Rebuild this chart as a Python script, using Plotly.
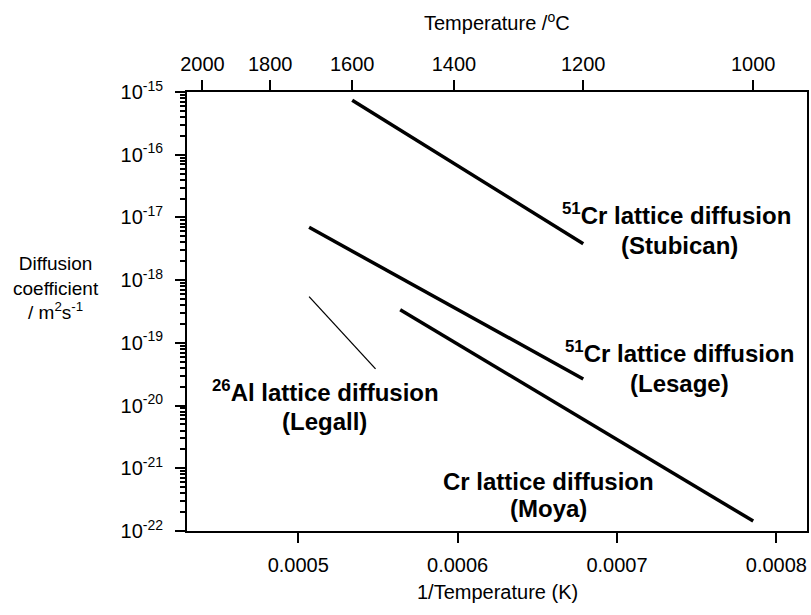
import numpy as np
import plotly.graph_objects as go

# ---------------- data ----------------
# temperatures in degC at line ends, diffusion coefficients in m^2/s
stubican_T = [1600, 1200]
stubican_D = [7.4e-16, 3.8e-18]
lesage_T = [1700, 1200]
lesage_D = [6.95e-18, 2.66e-20]
moya_T = [1500, 1000]
moya_D = [3.37e-19, 1.44e-22]
legall_T = [1700, 1550]
legall_D = [5.46e-19, 3.84e-20]

bottom_ticks = [0.0005, 0.0006, 0.0007, 0.0008]
bottom_ticktext = ["0.0005", "0.0006", "0.0007", "0.0008"]
top_ticks_C = [2000, 1800, 1600, 1400, 1200, 1000]
decades = [-22, -21, -20, -19, -18, -17, -16, -15]

X_RANGE = [0.0004302, 0.0008192]


def inv(Tc):
    return [1.0 / (t + 273.15) for t in Tc]


FONT = "Liberation Sans, Arial, sans-serif"
W, H = 811, 615
L, R, T, B = 187, 809, 92, 531
TICK_SIZE = 20
ANN_SIZE = 24

fig = go.Figure()
for Tc, D, w in [(stubican_T, stubican_D, 3.5), (lesage_T, lesage_D, 3.5),
                 (moya_T, moya_D, 3.5), (legall_T, legall_D, 1.3)]:
    fig.add_trace(go.Scatter(x=inv(Tc), y=D, mode="lines",
                             line=dict(color="black", width=w),
                             showlegend=False, hoverinfo="skip"))
# invisible trace to activate top axis
fig.add_trace(go.Scatter(x=inv(stubican_T), y=stubican_D, mode="lines",
                         line=dict(color="rgba(0,0,0,0)", width=0),
                         xaxis="x2", showlegend=False, hoverinfo="skip"))

minor_vals = [m * 10.0 ** k for k in decades[:-1] for m in range(2, 10)]

fig.update_layout(
    width=W, height=H,
    margin=dict(l=L, r=W - R, t=T, b=H - B, pad=0),
    paper_bgcolor="white", plot_bgcolor="white",
    font=dict(family=FONT, size=TICK_SIZE, color="black"),
    xaxis=dict(range=X_RANGE, tickmode="array", tickvals=bottom_ticks,
               ticktext=bottom_ticktext, ticks="outside", ticklen=10,
               tickwidth=2, tickcolor="black", showline=True, linewidth=2,
               linecolor="black", showgrid=False, zeroline=False,
               ticklabelstandoff=5),
    xaxis2=dict(range=X_RANGE, overlaying="x", side="top", anchor="y",
                tickmode="array", tickvals=inv(top_ticks_C),
                ticktext=[str(t) for t in top_ticks_C], ticks="outside",
                ticklen=10, tickwidth=2, tickcolor="black", showline=True,
                linewidth=2, linecolor="black", showgrid=False,
                zeroline=False, ticklabelstandoff=1),
    yaxis=dict(type="log", range=[-22, -15], tickmode="array",
               tickvals=[10.0 ** k for k in decades],
               ticktext=["10<sup>%d</sup>" % k for k in decades],
               ticks="outside", ticklen=10, tickwidth=2, tickcolor="black",
               showline=True, linewidth=2, linecolor="black", mirror=True,
               showgrid=False, zeroline=False, ticklabelstandoff=8,
               minor=dict(tickmode="array", tickvals=minor_vals,
                          ticks="outside", ticklen=5, tickwidth=1.5,
                          tickcolor="black", showgrid=False)),
)


def px2paper(px, py):
    return (px - L) / (R - L), (B - py) / (B - T)


def label(text, px, py, size=TICK_SIZE, bold=False):
    xp, yp = px2paper(px, py)
    fig.add_annotation(x=xp, y=yp, xref="paper", yref="paper",
                       text=("<b>%s</b>" % text) if bold else text,
                       showarrow=False, xanchor="center", yanchor="middle",
                       font=dict(family=FONT, size=size, color="black"))


label("Temperature /<sup>o</sup>C", 498, 22)
label("1/Temperature (K)", 498, 592)
label("Diffusion<br>coefficient<br>/ m<sup>2</sup>s<sup>-1</sup>", 56, 288, 19)

label("<sup>51</sup>Cr lattice diffusion", 678, 214, ANN_SIZE, True)
label("(Stubican)", 681, 245, ANN_SIZE, True)
label("<sup>51</sup>Cr lattice diffusion", 681, 352, ANN_SIZE, True)
label("(Lesage)", 681, 383, ANN_SIZE, True)
label("<sup>26</sup>Al lattice diffusion", 326, 391, ANN_SIZE, True)
label("(Legall)", 325, 421, ANN_SIZE, True)
label("Cr lattice diffusion", 550, 481, ANN_SIZE, True)
label("(Moya)", 550, 508, ANN_SIZE, True)

fig.write_html("out.html")
